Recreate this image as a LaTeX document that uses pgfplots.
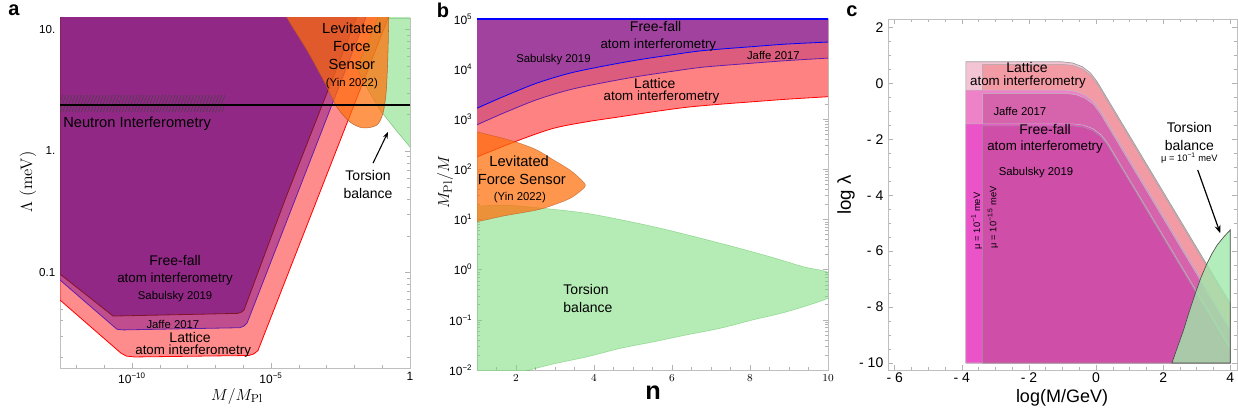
\documentclass[border=0pt]{standalone}
\usepackage{fontspec}
\setsansfont{Liberation Sans}
\usepackage{pgfplots}
\pgfplotsset{compat=1.18}
\usetikzlibrary{patterns.meta,arrows.meta}
\newcommand{\fs}[1]{\fontsize{#1}{#1}\selectfont}

\definecolor{aLat}{RGB}{255,140,140}
\definecolor{aJaf}{RGB}{192,78,142}
\definecolor{aSab}{RGB}{146,40,134}
\definecolor{aSabE}{RGB}{130,20,40}
\definecolor{aJafE}{RGB}{100,30,170}
\definecolor{orng}{RGB}{255,110,10}
\definecolor{orngE}{RGB}{175,85,30}
\definecolor{grn}{RGB}{120,220,120}
\definecolor{bSab}{RGB}{160,66,158}
\definecolor{bJaf}{RGB}{220,92,125}
\definecolor{bLat}{RGB}{255,130,130}
\definecolor{cLatA}{RGB}{243,196,212}
\definecolor{cLatB}{RGB}{242,155,165}
\definecolor{cJafA}{RGB}{238,130,200}
\definecolor{cJafB}{RGB}{214,100,172}
\definecolor{cSabA}{RGB}{234,84,200}
\definecolor{cSabB}{RGB}{206,78,168}
\definecolor{cGrn}{RGB}{160,232,170}

\pgfplotsset{mystyle/.style={scale only axis, anchor=south west,
  axis line style={gray!50}, tick align=inside,
  tick style={gray!60, line width=0.4pt},
  major tick length=3.5pt, minor tick length=2pt,
  tick label style={font=\sffamily}}}

\begin{document}
\begin{tikzpicture}
\useasboundingbox (0,0) rectangle (928.5pt,-309.75pt);

% ---------------- Panel a ----------------
\begin{axis}[mystyle, at={(45pt,-276pt)}, width=262.5pt, height=262.5pt,
  xmin=-12.59, xmax=0, ymin=-1.788, ymax=1.096,
  xtick={-10,-5,0}, xticklabels={10\textsuperscript{−10},10\textsuperscript{−5},1},
  minor xtick={-12,-11,-9,-8,-7,-6,-4,-3,-2,-1},
  ytick={-1,0,1}, yticklabels={0.1,1.,10.},
  minor ytick={-1.699,-1.523,-1.398,-1.301,-1.222,-1.155,-1.097,-1.046,
   -0.699,-0.523,-0.398,-0.301,-0.222,-0.155,-0.097,-0.046,
   0.301,0.477,0.602,0.699,0.778,0.845,0.903,0.954},
  xticklabel style={font=\sffamily\fs{9}}, yticklabel style={font=\sffamily\fs{8.7}}]
\addplot[fill=aLat, draw=red, line width=0.6pt] coordinates {(-12.59,1.3) (-12.59,-1.228) (-10.4,-1.665) (-10.2,-1.690) (-9.9,-1.697) (-5.8,-1.685) (-5.62,-1.672) (-5.47,-1.645) (-3.35,-0.404) (-0.61,1.2) (-0.55,1.3)};
\addplot[fill=aJaf, draw=aJafE, line width=0.6pt] coordinates {(-12.59,1.3) (-12.59,-1.063) (-10.54,-1.469) (-10.3,-1.474) (-6.12,-1.456) (-5.97,-1.442) (-5.86,-1.417) (-4.14,-0.404) (-1.42,1.2) (-1.36,1.3)};
\addplot[fill=aSab, draw=aSabE, line width=0.6pt] coordinates {(-12.59,1.3) (-12.59,-1.014) (-10.68,-1.36) (-6.2,-1.338) (-6.05,-1.326) (-5.97,-1.31) (-4.50,-0.404) (-1.75,1.2) (-1.7,1.3)};
\addplot[fill=grn, fill opacity=0.55, draw=green!50!black, draw opacity=0.4] coordinates {(-0.85,1.3) (-1.4,0.95) (-1.92,0.684) (-1.5,0.5) (-1.08,0.338) (-0.5,0.17) (0,0.033) (0.2,-0.05) (0.2,1.3)};
\addplot[smooth, fill=orng, fill opacity=0.72, draw=orngE, draw opacity=0.8] coordinates {(-4.8,1.3) (-4.42,1.096) (-3.71,0.832) (-3.06,0.560) (-2.63,0.363) (-2.16,0.239) (-1.69,0.190) (-1.19,0.214) (-0.97,0.313) (-0.86,0.478) (-0.81,0.692) (-0.78,0.915) (-0.75,1.3) (-0.73,1.6)};
\addplot[draw=none, pattern={Lines[angle=70,distance=2.2pt,line width=0.35pt]}, pattern color=black!75] coordinates {(-12.59,0.321) (-12.59,0.461) (-6.62,0.461) (-6.72,0.321)};
\addplot[black, line width=2pt] coordinates {(-12.59,0.379) (0,0.379)};
\draw[-{Stealth[length=5pt]}, line width=0.8pt] (axis cs:-1.33,-0.10) -- (axis cs:-0.79,0.157);
\node[font=\sffamily\fs{11}] at (axis cs:-2.09,1.014) {Levitated};
\node[font=\sffamily\fs{11}] at (axis cs:-2.09,0.865) {Force};
\node[font=\sffamily\fs{11}] at (axis cs:-2.09,0.717) {Sensor};
\node[font=\sffamily\fs{8.5}] at (axis cs:-2.09,0.552) {(Yin 2022)};
\node[font=\sffamily\fs{10.5}] at (axis cs:-1.51,-0.198) {Torsion};
\node[font=\sffamily\fs{10.5}] at (axis cs:-1.51,-0.346) {balance};
\node[font=\sffamily\fs{11}, anchor=west, inner sep=0pt] at (axis cs:-12.48,0.222) {Neutron Interferometry};
\node[font=\sffamily\fs{10.5}] at (axis cs:-8.45,-0.906) {Free-fall};
\node[font=\sffamily\fs{10}] at (axis cs:-8.45,-1.055) {atom interferometry};
\node[font=\sffamily\fs{8.5}] at (axis cs:-8.45,-1.203) {Sabulsky 2019};
\node[font=\sffamily\fs{8.5}] at (axis cs:-8.53,-1.426) {Jaffe 2017};
\node[font=\sffamily\fs{10.5}] at (axis cs:-7.91,-1.533) {Lattice};
\node[font=\sffamily\fs{10}] at (axis cs:-7.80,-1.648) {atom interferometry};
\end{axis}

% ---------------- Panel b ----------------
\begin{axis}[mystyle, at={(357.75pt,-277.5pt)}, width=263.25pt, height=263.25pt,
  xmin=1, xmax=10, ymin=-2, ymax=5,
  xtick={2,4,6,8,10}, minor xtick={1.5,2.5,3,3.5,4.5,5,5.5,6.5,7,7.5,8.5,9,9.5},
  ytick={-2,-1,0,1,2,3,4,5},
  yticklabels={10\textsuperscript{−2},10\textsuperscript{−1},10\textsuperscript{0},10\textsuperscript{1},10\textsuperscript{2},10\textsuperscript{3},10\textsuperscript{4},10\textsuperscript{5}},
  minor ytick={-1.699,-1.523,-1.398,-1.301,-1.222,-1.155,-1.097,-1.046,
   -0.699,-0.523,-0.398,-0.301,-0.222,-0.155,-0.097,-0.046,
   0.301,0.477,0.602,0.699,0.778,0.845,0.903,0.954,
   1.301,1.477,1.602,1.699,1.778,1.845,1.903,1.954,
   2.301,2.477,2.602,2.699,2.778,2.845,2.903,2.954,
   3.301,3.477,3.602,3.699,3.778,3.845,3.903,3.954,
   4.301,4.477,4.602,4.699,4.778,4.845,4.903,4.954},
  xticklabel style={font=\sffamily\fs{8}}, yticklabel style={font=\sffamily\fs{9}}]
\addplot[smooth, fill=bLat, draw=none] coordinates {(0.1,5.5) (0.1,1.95) (1.0,2.25) (2.10,2.59) (2.96,2.82) (3.81,2.95) (4.67,3.05) (5.52,3.15) (6.38,3.24) (7.23,3.30) (8.08,3.35) (8.94,3.40) (10,3.45) (10.9,3.49) (10.9,5.5)};
\addplot[smooth, fill=bJaf, draw=none] coordinates {(0.1,5.5) (0.1,2.6) (1,2.89) (1.67,3.12) (2.53,3.39) (3.38,3.59) (4.24,3.73) (5.09,3.85) (5.95,3.95) (6.80,4.04) (8.08,4.12) (8.94,4.17) (10,4.22) (10.9,4.26) (10.9,5.5)};
\addplot[smooth, fill=bSab, draw=none] coordinates {(0.1,5.5) (0.1,2.9) (1.0,3.22) (1.67,3.45) (2.53,3.72) (3.38,3.92) (4.24,4.06) (5.09,4.18) (5.95,4.28) (6.80,4.37) (8.08,4.45) (8.94,4.50) (10,4.54) (10.9,4.57) (10.9,5.5)};
\addplot[red, smooth, line width=0.6pt] coordinates {(1.0,2.25) (2.10,2.59) (2.96,2.82) (3.81,2.95) (4.67,3.05) (5.52,3.15) (6.38,3.24) (7.23,3.30) (8.08,3.35) (8.94,3.40) (10,3.45)};
\addplot[aJafE, smooth, line width=0.6pt] coordinates {(1,2.89) (1.67,3.12) (2.53,3.39) (3.38,3.59) (4.24,3.73) (5.09,3.85) (5.95,3.95) (6.80,4.04) (8.08,4.12) (8.94,4.17) (10,4.22)};
\addplot[blue, smooth, line width=0.6pt] coordinates {(1.0,3.22) (1.67,3.45) (2.53,3.72) (3.38,3.92) (4.24,4.06) (5.09,4.18) (5.95,4.28) (6.80,4.37) (8.08,4.45) (8.94,4.50) (10,4.54)};
\addplot[blue, line width=0.8pt] coordinates {(1,5) (10,5)};
\addplot[smooth, fill=grn, fill opacity=0.55, draw=green!60!black, draw opacity=0.3] coordinates {(0.0,1.25) (1.0,1.27) (1.7,1.29) (2.36,1.25) (3.81,1.125) (5.52,0.86) (7.23,0.53) (8.51,0.26) (9.37,0.06) (10,-0.05) (10.5,-0.3) (10,-0.57) (8.94,-0.84) (8.08,-1.0) (7.23,-1.17) (6.38,-1.30) (5.52,-1.44) (4.67,-1.57) (3.81,-1.74) (2.96,-1.88) (2.36,-2.0) (1.5,-2.2) (1.0,-2.32) (0.0,-2.45)};
\addplot[smooth, fill=orng, fill opacity=0.72, draw=orngE, draw opacity=0.6] coordinates {(0.0,2.95) (1.0,2.75) (1.67,2.62) (2.10,2.52) (2.53,2.39) (2.96,2.19) (3.38,1.99) (3.65,1.81) (3.78,1.68) (3.64,1.56) (3.38,1.42) (2.96,1.29) (2.53,1.19) (1.67,1.07) (1.0,0.96) (0.0,0.85)};
\node[font=\sffamily\fs{10.5}] at (axis cs:5.58,4.85) {Free-fall};
\node[font=\sffamily\fs{10}] at (axis cs:5.65,4.48) {atom interferometry};
\node[font=\sffamily\fs{8.5}] at (axis cs:2.96,4.20) {Sabulsky 2019};
\node[font=\sffamily\fs{8.5}] at (axis cs:8.60,4.28) {Jaffe 2017};
\node[font=\sffamily\fs{10.5}] at (axis cs:5.56,3.72) {Lattice};
\node[font=\sffamily\fs{10}] at (axis cs:5.73,3.44) {atom interferometry};
\node[font=\sffamily\fs{11}] at (axis cs:2.08,2.17) {Levitated};
\node[font=\sffamily\fs{11}] at (axis cs:2.15,1.81) {Force Sensor};
\node[font=\sffamily\fs{8.5}] at (axis cs:2.10,1.44) {(Yin 2022)};
\node[font=\sffamily\fs{10.5}, anchor=west, inner sep=0pt] at (axis cs:3.21,-0.39) {Torsion};
\node[font=\sffamily\fs{10.5}, anchor=west, inner sep=0pt] at (axis cs:3.21,-0.75) {balance};
\end{axis}

% ---------------- Panel c ----------------
\begin{axis}[mystyle, at={(666pt,-277.5pt)}, width=261.75pt, height=263.25pt,
  xmin=-6.2, xmax=4.2, ymin=-10.25, ymax=2.3,
  xtick={-6,-4,-2,0,2,4}, xticklabels={- 6,- 4,- 2,0,2,4},
  ytick={-10,-8,-6,-4,-2,0,2}, yticklabels={- 10,- 8,- 6,- 4,- 2,0,2},
  minor x tick num=3, minor y tick num=3,
  xticklabel style={font=\sffamily\fs{10.5}, yshift=1.5pt}, yticklabel style={font=\sffamily\fs{10.5}}]
\addplot[fill=cLatA, draw=black!40, line width=0.5pt] coordinates {(-3.88,-10) (-3.88,0.77) (-1.025,0.77) (-0.697,0.726) (-0.4125,0.595) (-0.172,0.376) (0.025,0.07) (4,-7.88) (4,-10) (-3.88,-10)};
\addplot[fill=cLatB, draw=black!35, line width=0.4pt] coordinates {(-3.38,-10) (-3.38,0.68) (-1.015,0.68) (-0.687,0.636) (-0.4025,0.505) (-0.162,0.286) (0.035,-0.02) (4,-7.95) (4,-10) (-3.38,-10)};
\addplot[fill=cJafA, draw=black!25, line width=0.4pt] coordinates {(-3.88,-10) (-3.88,-0.24) (-0.94,-0.24) (-0.612,-0.284) (-0.3275,-0.415) (-0.087,-0.634) (0.11,-0.94) (4,-8.72) (4,-10) (-3.88,-10)};
\addplot[fill=cJafB, draw=black!25, line width=0.4pt] coordinates {(-3.38,-10) (-3.38,-0.36) (-0.93,-0.36) (-0.602,-0.404) (-0.3175,-0.535) (-0.077,-0.754) (0.12,-1.06) (4,-8.82) (4,-10) (-3.38,-10)};
\addplot[fill=cSabA, draw=black!25, line width=0.4pt] coordinates {(-3.88,-10) (-3.88,-1.45) (-0.7,-1.45) (-0.372,-1.494) (-0.0875,-1.625) (0.153,-1.844) (0.35,-2.15) (4,-9.45) (4,-10) (-3.88,-10)};
\addplot[fill=cSabB, draw=black!40, line width=0.4pt] coordinates {(-3.38,-10) (-3.38,-1.52) (-0.7,-1.52) (-0.372,-1.564) (-0.0875,-1.695) (0.153,-1.914) (0.35,-2.22) (4,-9.52) (4,-10) (-3.38,-10)};
\addplot[fill=cGrn, fill opacity=0.8, draw=black!70, line width=0.5pt] coordinates {(2.26,-10) (2.45,-9.35) (2.61,-8.81) (2.78,-8.15) (2.96,-7.5) (3.13,-6.93) (3.31,-6.43) (3.46,-6.08) (3.61,-5.78) (3.8,-5.5) (4.0,-5.24) (4.0,-10) (2.26,-10)};
\draw[-{Stealth[length=6pt]}, line width=0.9pt] (axis cs:3.03,-3.1) -- (axis cs:3.70,-5.36);
\node[font=\sffamily\fs{10.5}] at (axis cs:-2.06,0.56) {Lattice};
\node[font=\sffamily\fs{10}] at (axis cs:-2.03,0.03) {atom interferometry};
\node[font=\sffamily\fs{8.5}] at (axis cs:-2.27,-0.99) {Jaffe 2017};
\node[font=\sffamily\fs{10.5}] at (axis cs:-1.52,-1.64) {Free-fall};
\node[font=\sffamily\fs{10}] at (axis cs:-1.52,-2.29) {atom interferometry};
\node[font=\sffamily\fs{8.5}] at (axis cs:-1.79,-3.18) {Sabulsky 2019};
\node[font=\sffamily\fs{10.5}] at (axis cs:2.78,-1.59) {Torsion};
\node[font=\sffamily\fs{10.5}] at (axis cs:2.78,-2.23) {balance};
\node[font=\sffamily\fs{7}] at (axis cs:2.78,-2.68) {μ = 10\textsuperscript{−1} meV};
\node[font=\sffamily\fs{7}, rotate=90] at (axis cs:-3.56,-4.92) {μ = 10\textsuperscript{−1} meV};
\node[font=\sffamily\fs{7}, rotate=90] at (axis cs:-3.07,-4.78) {μ = 10\textsuperscript{−1.5} meV};
\end{axis}

% ---------------- outer labels ----------------
\begin{scope}[x=0.75pt, y=-0.75pt]
\node[font=\fs{12.5}] at (237,396) {$M/M_{\mathrm{Pl}}$};
\node[font=\fs{12.5}, rotate=90] at (28,182) {$\Lambda$ (meV)};
\node[font=\fs{13}, rotate=90] at (445,182) {$M_{\mathrm{Pl}}/M$};
\node[font=\sffamily\bfseries\fs{19}] at (653,393) {n};
\node[font=\sffamily\fs{14}, rotate=90] at (846,195) {log λ};
\node[font=\sffamily\fs{13.5}] at (1062,398) {log(M/GeV)};
\node[font=\sffamily\bfseries\fs{15}] at (14,10) {a};
\node[font=\sffamily\bfseries\fs{15}] at (443,10) {b};
\node[font=\sffamily\bfseries\fs{15}] at (852,11) {c};
\end{scope}
\end{tikzpicture}
\end{document}
